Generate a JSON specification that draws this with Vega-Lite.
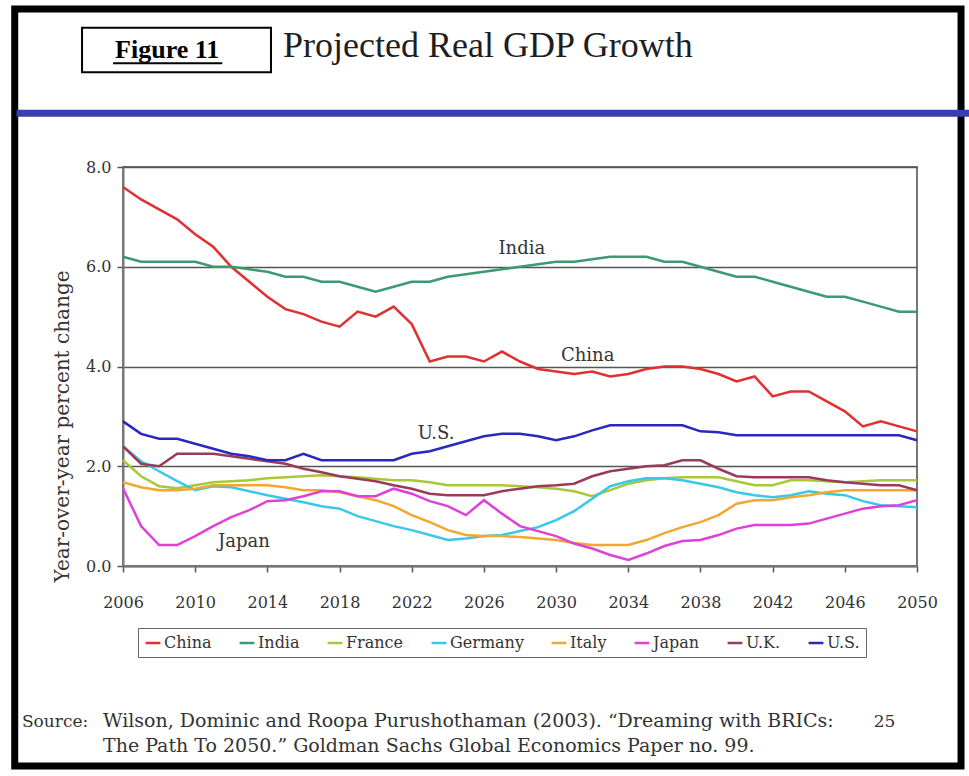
{
  "$schema": "https://vega.github.io/schema/vega-lite/v6.json",
  "width": 794,
  "height": 399,
  "autosize": {"type": "none"},
  "padding": {"left": 123, "top": 167, "right": 52, "bottom": 210},
  "background": "white",
  "config": {
    "view": {"stroke": "#777", "strokeWidth": 2},
    "text": {"font": "DejaVu Serif", "color": "#333"}
  },
  "datasets": {
    "gdp": [
      {"year":2006,"China":7.6,"India":6.2,"France":2.12,"Germany":2.4,"Italy":1.68,"Japan":1.56,"UK":2.4,"US":2.9},
      {"year":2007,"China":7.35,"India":6.1,"France":1.8,"Germany":2.1,"Italy":1.58,"Japan":0.8,"UK":2.05,"US":2.65},
      {"year":2008,"China":7.15,"India":6.1,"France":1.6,"Germany":1.9,"Italy":1.52,"Japan":0.42,"UK":2.0,"US":2.55},
      {"year":2009,"China":6.95,"India":6.1,"France":1.56,"Germany":1.7,"Italy":1.52,"Japan":0.42,"UK":2.25,"US":2.55},
      {"year":2010,"China":6.65,"India":6.1,"France":1.62,"Germany":1.52,"Italy":1.55,"Japan":0.6,"UK":2.25,"US":2.45},
      {"year":2011,"China":6.4,"India":6.0,"France":1.68,"Germany":1.6,"Italy":1.62,"Japan":0.8,"UK":2.25,"US":2.35},
      {"year":2012,"China":6.0,"India":6.0,"France":1.7,"Germany":1.58,"Italy":1.62,"Japan":0.98,"UK":2.2,"US":2.25},
      {"year":2013,"China":5.7,"India":5.95,"France":1.72,"Germany":1.5,"Italy":1.62,"Japan":1.12,"UK":2.15,"US":2.2},
      {"year":2014,"China":5.4,"India":5.9,"France":1.76,"Germany":1.42,"Italy":1.62,"Japan":1.3,"UK":2.1,"US":2.12},
      {"year":2015,"China":5.15,"India":5.8,"France":1.78,"Germany":1.35,"Italy":1.58,"Japan":1.32,"UK":2.05,"US":2.12},
      {"year":2016,"China":5.05,"India":5.8,"France":1.8,"Germany":1.28,"Italy":1.52,"Japan":1.4,"UK":1.95,"US":2.25},
      {"year":2017,"China":4.9,"India":5.7,"France":1.82,"Germany":1.2,"Italy":1.52,"Japan":1.5,"UK":1.88,"US":2.12},
      {"year":2018,"China":4.8,"India":5.7,"France":1.8,"Germany":1.15,"Italy":1.48,"Japan":1.5,"UK":1.8,"US":2.12},
      {"year":2019,"China":5.1,"India":5.6,"France":1.78,"Germany":1.0,"Italy":1.4,"Japan":1.4,"UK":1.75,"US":2.12},
      {"year":2020,"China":5.0,"India":5.5,"France":1.75,"Germany":0.9,"Italy":1.32,"Japan":1.4,"UK":1.7,"US":2.12},
      {"year":2021,"China":5.2,"India":5.6,"France":1.72,"Germany":0.8,"Italy":1.2,"Japan":1.55,"UK":1.62,"US":2.12},
      {"year":2022,"China":4.85,"India":5.7,"France":1.72,"Germany":0.72,"Italy":1.02,"Japan":1.45,"UK":1.55,"US":2.25},
      {"year":2023,"China":4.1,"India":5.7,"France":1.68,"Germany":0.62,"Italy":0.88,"Japan":1.3,"UK":1.45,"US":2.3},
      {"year":2024,"China":4.2,"India":5.8,"France":1.62,"Germany":0.52,"Italy":0.72,"Japan":1.2,"UK":1.42,"US":2.4},
      {"year":2025,"China":4.2,"India":5.85,"France":1.62,"Germany":0.55,"Italy":0.62,"Japan":1.02,"UK":1.42,"US":2.5},
      {"year":2026,"China":4.1,"India":5.9,"France":1.62,"Germany":0.6,"Italy":0.6,"Japan":1.32,"UK":1.42,"US":2.6},
      {"year":2027,"China":4.3,"India":5.95,"France":1.62,"Germany":0.62,"Italy":0.6,"Japan":1.05,"UK":1.5,"US":2.65},
      {"year":2028,"China":4.1,"India":6.0,"France":1.6,"Germany":0.7,"Italy":0.58,"Japan":0.8,"UK":1.55,"US":2.65},
      {"year":2029,"China":3.95,"India":6.05,"France":1.58,"Germany":0.78,"Italy":0.55,"Japan":0.7,"UK":1.6,"US":2.6},
      {"year":2030,"China":3.9,"India":6.1,"France":1.55,"Germany":0.92,"Italy":0.52,"Japan":0.6,"UK":1.62,"US":2.52},
      {"year":2031,"China":3.85,"India":6.1,"France":1.5,"Germany":1.1,"Italy":0.46,"Japan":0.45,"UK":1.65,"US":2.6},
      {"year":2032,"China":3.9,"India":6.15,"France":1.4,"Germany":1.35,"Italy":0.42,"Japan":0.35,"UK":1.8,"US":2.72},
      {"year":2033,"China":3.8,"India":6.2,"France":1.52,"Germany":1.6,"Italy":0.42,"Japan":0.22,"UK":1.9,"US":2.82},
      {"year":2034,"China":3.85,"India":6.2,"France":1.65,"Germany":1.7,"Italy":0.42,"Japan":0.12,"UK":1.95,"US":2.82},
      {"year":2035,"China":3.95,"India":6.2,"France":1.72,"Germany":1.76,"Italy":0.52,"Japan":0.25,"UK":2.0,"US":2.82},
      {"year":2036,"China":4.0,"India":6.1,"France":1.76,"Germany":1.76,"Italy":0.66,"Japan":0.4,"UK":2.02,"US":2.82},
      {"year":2037,"China":4.0,"India":6.1,"France":1.78,"Germany":1.72,"Italy":0.78,"Japan":0.5,"UK":2.12,"US":2.82},
      {"year":2038,"China":3.95,"India":6.0,"France":1.78,"Germany":1.65,"Italy":0.88,"Japan":0.52,"UK":2.12,"US":2.7},
      {"year":2039,"China":3.85,"India":5.9,"France":1.78,"Germany":1.58,"Italy":1.02,"Japan":0.62,"UK":1.95,"US":2.68},
      {"year":2040,"China":3.7,"India":5.8,"France":1.7,"Germany":1.48,"Italy":1.25,"Japan":0.75,"UK":1.8,"US":2.62},
      {"year":2041,"China":3.8,"India":5.8,"France":1.62,"Germany":1.42,"Italy":1.32,"Japan":0.82,"UK":1.78,"US":2.62},
      {"year":2042,"China":3.4,"India":5.7,"France":1.62,"Germany":1.38,"Italy":1.32,"Japan":0.82,"UK":1.78,"US":2.62},
      {"year":2043,"China":3.5,"India":5.6,"France":1.72,"Germany":1.42,"Italy":1.38,"Japan":0.82,"UK":1.78,"US":2.62},
      {"year":2044,"China":3.5,"India":5.5,"France":1.72,"Germany":1.5,"Italy":1.42,"Japan":0.85,"UK":1.78,"US":2.62},
      {"year":2045,"China":3.3,"India":5.4,"France":1.7,"Germany":1.45,"Italy":1.48,"Japan":0.95,"UK":1.72,"US":2.62},
      {"year":2046,"China":3.1,"India":5.4,"France":1.68,"Germany":1.42,"Italy":1.52,"Japan":1.05,"UK":1.68,"US":2.62},
      {"year":2047,"China":2.8,"India":5.3,"France":1.7,"Germany":1.3,"Italy":1.52,"Japan":1.15,"UK":1.65,"US":2.62},
      {"year":2048,"China":2.9,"India":5.2,"France":1.72,"Germany":1.22,"Italy":1.52,"Japan":1.2,"UK":1.62,"US":2.62},
      {"year":2049,"China":2.8,"India":5.1,"France":1.72,"Germany":1.2,"Italy":1.52,"Japan":1.22,"UK":1.62,"US":2.62},
      {"year":2050,"China":2.7,"India":5.1,"France":1.72,"Germany":1.18,"Italy":1.52,"Japan":1.32,"UK":1.52,"US":2.52}
    ],
    "labels": [
      {"label":"India","year":2028.1,"value":6.25},
      {"label":"China","year":2031.75,"value":4.12},
      {"label":"U.S.","year":2023.35,"value":2.55},
      {"label":"Japan","year":2012.7,"value":0.39}
    ],
    "one": [{"id": 1}]
  },
  "layer": [
    {
      "data": {"name": "one"},
      "mark": {"type": "rect", "fill": null, "fillOpacity": 0, "stroke": "black", "strokeWidth": 7, "clip": false},
      "encoding": {
        "x": {"datum": 2000.0, "type": "quantitative"},
        "x2": {"datum": 2052.44},
        "y": {"datum": 11.17, "type": "quantitative"},
        "y2": {"datum": -4.01}
      }
    },
    {
      "data": {"name": "one"},
      "mark": {"type": "rect", "fill": "#3b3bb3", "clip": false},
      "encoding": {
        "x": {"datum": 2000.1, "type": "quantitative"},
        "x2": {"datum": 2052.9},
        "y": {"datum": 9.15, "type": "quantitative"},
        "y2": {"datum": 9.01}
      }
    },
    {
      "data": {"name": "one"},
      "mark": {"type": "rect", "fill": null, "fillOpacity": 0, "stroke": "black", "strokeWidth": 2, "clip": false},
      "encoding": {
        "x": {"datum": 2003.73, "type": "quantitative"},
        "x2": {"datum": 2014.2},
        "y": {"datum": 10.79, "type": "quantitative"},
        "y2": {"datum": 9.9}
      }
    },
    {
      "data": {"name": "one"},
      "mark": {"type": "rule", "stroke": "black", "strokeWidth": 2, "clip": false},
      "encoding": {
        "x": {"datum": 2005.45, "type": "quantitative"},
        "x2": {"datum": 2011.5},
        "y": {"datum": 10.08, "type": "quantitative"}
      }
    },
    {
      "data": {"name": "one"},
      "mark": {"type": "text", "text": "Figure 11", "font": "Liberation Serif", "fontSize": 26, "fontWeight": "bold", "color": "black", "align": "center", "baseline": "alphabetic", "clip": false},
      "encoding": {
        "x": {"datum": 2008.45, "type": "quantitative"},
        "y": {"datum": 10.18, "type": "quantitative"}
      }
    },
    {
      "data": {"name": "one"},
      "mark": {"type": "text", "text": "Projected Real GDP Growth", "font": "Liberation Serif", "fontSize": 36, "color": "#1e1e1e", "align": "left", "baseline": "alphabetic", "clip": false},
      "encoding": {
        "x": {"datum": 2014.87, "type": "quantitative"},
        "y": {"datum": 10.2, "type": "quantitative"}
      }
    },
    {
      "data": {"name": "gdp"},
      "transform": [{"fold": ["China", "India", "France", "Germany", "Italy", "Japan", "UK", "US"], "as": ["country", "value"]}],
      "mark": {"type": "line", "strokeWidth": 2.5, "clip": false},
      "encoding": {
        "x": {
          "field": "year", "type": "quantitative",
          "scale": {"domain": [2006, 2050], "nice": false, "zero": false},
          "axis": {
            "title": null,
            "values": [2006,2008,2010,2012,2014,2016,2018,2020,2022,2024,2026,2028,2030,2032,2034,2036,2038,2040,2042,2044,2046,2048,2050],
            "labelExpr": "(datum.value - 2006) % 4 == 0 ? datum.label : ''",
            "format": "d",
            "grid": false,
            "domainColor": "#777", "domainWidth": 2,
            "tickColor": "#555", "tickSize": 6, "tickWidth": 1.5,
            "labelFont": "DejaVu Serif", "labelFontSize": 16, "labelColor": "#333",
            "labelPadding": 22, "labelFlush": false, "labelOverlap": false
          }
        },
        "y": {
          "field": "value", "type": "quantitative",
          "scale": {"domain": [0, 8], "nice": false, "zero": true},
          "axis": {
            "title": "Year-over-year percent change",
            "values": [0, 2, 4, 6, 8],
            "format": ".1f",
            "grid": true, "gridColor": "#555", "gridWidth": 1.5,
            "domainColor": "#777", "domainWidth": 2,
            "tickColor": "#555", "tickSize": 6, "tickWidth": 1.5,
            "labelFont": "DejaVu Serif", "labelFontSize": 16, "labelColor": "#333", "labelPadding": 6,
            "titleFont": "DejaVu Serif", "titleFontSize": 20, "titleFontWeight": "normal", "titleColor": "#333",
            "titleX": -61, "titleY": 259, "titleAlign": "center", "titleBaseline": "middle"
          }
        },
        "color": {
          "field": "country", "type": "nominal",
          "scale": {
            "domain": ["China", "India", "France", "Germany", "Italy", "Japan", "UK", "US"],
            "range": ["#e03030", "#3a9a70", "#a8c83a", "#38c8e8", "#f0a830", "#e040d8", "#9a3a5a", "#2828c0"]
          },
          "legend": {
            "title": null,
            "orient": "none", "legendX": 15, "legendY": 461,
            "direction": "horizontal", "columns": 8,
            "symbolType": "stroke", "symbolStrokeWidth": 2.5, "symbolSize": 220,
            "labelFont": "DejaVu Serif", "labelFontSize": 16, "labelColor": "#333",
            "labelExpr": "datum.label == 'UK' ? 'U.K.' : (datum.label == 'US' ? 'U.S.' : datum.label)",
            "strokeColor": "#666", "padding": 6, "columnPadding": 22, "labelOffset": 2
          }
        }
      }
    },
    {
      "data": {"name": "labels"},
      "mark": {"type": "text", "font": "DejaVu Serif", "fontSize": 18, "color": "#333", "align": "center", "baseline": "alphabetic"},
      "encoding": {
        "x": {"field": "year", "type": "quantitative"},
        "y": {"field": "value", "type": "quantitative"},
        "text": {"field": "label"}
      }
    },
    {
      "data": {"name": "one"},
      "mark": {"type": "text", "text": "Source:", "font": "DejaVu Serif", "fontSize": 17, "color": "#333", "align": "left", "baseline": "alphabetic", "clip": false},
      "encoding": {
        "x": {"datum": 2000.4, "type": "quantitative"},
        "y": {"datum": -3.23, "type": "quantitative"}
      }
    },
    {
      "data": {"name": "one"},
      "mark": {"type": "text", "text": "Wilson, Dominic and Roopa Purushothaman (2003). “Dreaming with BRICs:", "font": "DejaVu Serif", "fontSize": 19, "color": "#333", "align": "left", "baseline": "alphabetic", "clip": false},
      "encoding": {
        "x": {"datum": 2004.89, "type": "quantitative"},
        "y": {"datum": -3.23, "type": "quantitative"}
      }
    },
    {
      "data": {"name": "one"},
      "mark": {"type": "text", "text": "The Path To 2050.” Goldman Sachs Global Economics Paper no. 99.", "font": "DejaVu Serif", "fontSize": 19, "color": "#333", "align": "left", "baseline": "alphabetic", "clip": false},
      "encoding": {
        "x": {"datum": 2004.89, "type": "quantitative"},
        "y": {"datum": -3.73, "type": "quantitative"}
      }
    },
    {
      "data": {"name": "one"},
      "mark": {"type": "text", "text": "25", "font": "DejaVu Serif", "fontSize": 17, "color": "#333", "align": "center", "baseline": "alphabetic", "clip": false},
      "encoding": {
        "x": {"datum": 2048.2, "type": "quantitative"},
        "y": {"datum": -3.23, "type": "quantitative"}
      }
    }
  ]
}
